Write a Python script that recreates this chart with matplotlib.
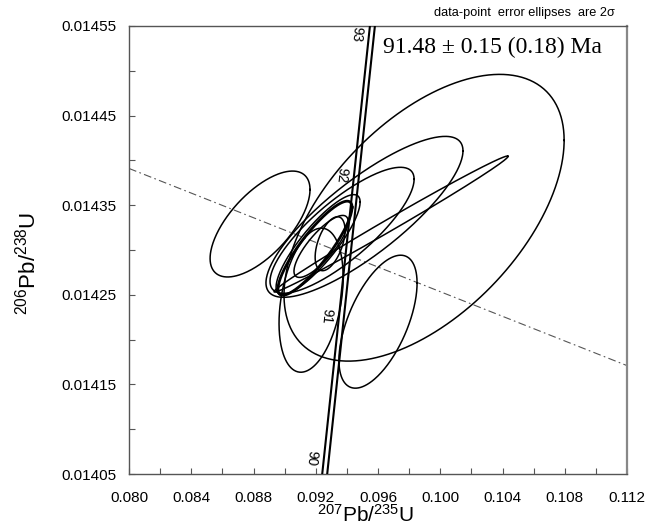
import numpy as np
import matplotlib
matplotlib.use('Agg')
import matplotlib.pyplot as plt
from matplotlib.ticker import MultipleLocator, FormatStrFormatter

plt.rcParams['font.family'] = ['Liberation Sans', 'DejaVu Sans']
plt.rcParams['mathtext.default'] = 'regular'

# data-point error ellipses (2 sigma): centre, half-widths, error correlation
spot_x = [0.09896, 0.09513, 0.09369, 0.09684, 0.08842, 0.09600,
          0.09170, 0.09195, 0.09292, 0.09234, 0.09215]
spot_y = [0.014336, 0.014337, 0.014322, 0.014329, 0.014329, 0.014220,
          0.014244, 0.014302, 0.014307, 0.014304, 0.014306]
spot_sx = [0.00900, 0.00633, 0.00463, 0.00752, 0.00321, 0.00251,
           0.00206, 0.00238, 0.00096, 0.00174, 0.00270]
spot_sy = [0.000160, 0.0000898, 0.0000703, 0.0000759, 0.0000591, 0.0000742,
           0.0000804, 0.0000525, 0.0000301, 0.0000346, 0.0000558]
spot_rho = [0.54, 0.82, 0.81, 0.995, 0.65, 0.58, 0.32, 0.87, 0.50, 0.80, 0.85]
spot_bold = [False, False, False, False, False, False, False, True, False, False, False]

# concordia (age in Ma), plus band half-width
conc_age = [89.9, 90, 91, 92, 93, 93.2]
conc_x = [0.092514, 0.092630, 0.093596, 0.094560, 0.095525, 0.095701]
conc_y = [0.014040, 0.014059, 0.0142165, 0.0143738, 0.0145312, 0.014560]
conc_band = 0.00016
label_ages = [90, 91, 92, 93]

# regression line through the data (dashed)
disc_x = [0.080, 0.112]
disc_y = [0.014391, 0.014171]

# axis ticks
x_ticks = [0.080, 0.084, 0.088, 0.092, 0.096, 0.100, 0.104, 0.108, 0.112]
y_ticks = [0.01405, 0.01415, 0.01425, 0.01435, 0.01445, 0.01455]

fig = plt.figure(figsize=(6.49, 5.25), dpi=100)
ax = fig.add_axes([0.1988, 0.0971, 0.7673, 0.8534])

ax.plot(disc_x, disc_y, color='#555555', lw=0.8, ls=(0, (7, 3, 1.5, 3)), zorder=1)

t = np.linspace(0, 2 * np.pi, 300)
for cx, cy, sx, sy, r, b in zip(spot_x, spot_y, spot_sx, spot_sy, spot_rho, spot_bold):
    ex = cx + sx * np.cos(t)
    ey = cy + sy * (r * np.cos(t) + np.sqrt(1 - r ** 2) * np.sin(t))
    ax.plot(ex, ey, color='black', lw=2.0 if b else 1.1, zorder=2)

cx_arr = np.array(conc_x)
ax.plot(cx_arr - conc_band, conc_y, color='black', lw=1.5, zorder=3)
ax.plot(cx_arr + conc_band, conc_y, color='black', lw=1.5, zorder=3)

for a in label_ages:
    i = conc_age.index(a)
    ax.annotate(str(a), (conc_x[i], conc_y[i]), xytext=(-10, 6),
                textcoords='offset points', rotation=-96, fontsize=10,
                ha='center', va='center')

ax.set_xlim(x_ticks[0], x_ticks[-1])
ax.set_ylim(y_ticks[0], y_ticks[-1])
ax.set_xticks(x_ticks)
ax.set_yticks(y_ticks)
ax.xaxis.set_minor_locator(MultipleLocator(0.002))
ax.set_yticks([v + 0.00005 for v in y_ticks[:-1]], minor=True)
ax.xaxis.set_major_formatter(FormatStrFormatter('%.3f'))
ax.yaxis.set_major_formatter(FormatStrFormatter('%.5f'))
ax.tick_params(which='both', direction='in', length=4, width=0.8,
               color='#555555', labelsize=11)
ax.tick_params(axis='x', pad=12)
ax.tick_params(axis='y', pad=9)
for s in ax.spines.values():
    s.set_color('#555555')
    s.set_linewidth(1.0)
ax.spines['right'].set_color('#888888')
ax.spines['right'].set_linewidth(1.6)

ax.set_xlabel(r'$^{207}$Pb/$^{235}$U', fontsize=15)
ax.set_ylabel(r'$^{206}$Pb/$^{238}$U', fontsize=16)
ax.xaxis.set_label_coords(0.474, -0.067)
ax.yaxis.set_label_coords(-0.178, 0.471)

fig.text(0.948, 0.975, 'data-point  error ellipses  are 2σ', fontsize=9.2,
         ha='right', va='center')
fig.text(0.590, 0.910, '91.48 ± 0.15 (0.18) Ma', fontsize=17,
         family=['Liberation Serif', 'DejaVu Serif'], ha='left', va='center')

fig.savefig('out.png', dpi=100)
